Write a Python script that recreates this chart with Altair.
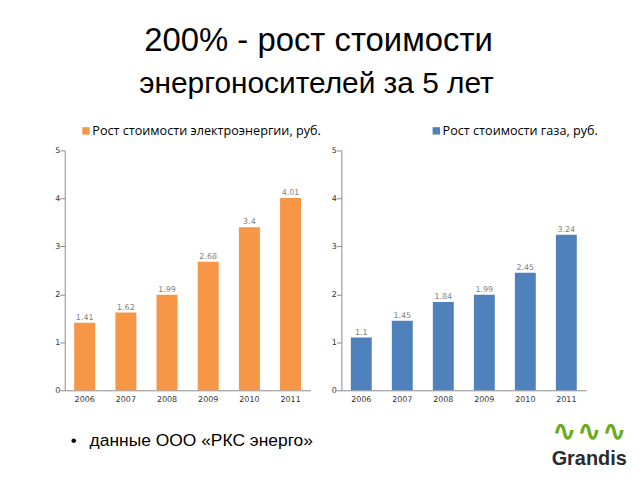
import altair as alt
import pandas as pd

years = ["2006", "2007", "2008", "2009", "2010", "2011"]
electricity = [1.41, 1.62, 1.99, 2.68, 3.4, 4.01]
electricity_labels = ["1.41", "1.62", "1.99", "2.68", "3.4", "4.01"]
gas = [1.1, 1.45, 1.84, 1.99, 2.45, 3.24]
gas_labels = ["1.1", "1.45", "1.84", "1.99", "2.45", "3.24"]
series_names = ["Рост стоимости электроэнергии, руб.", "Рост стоимости газа, руб."]
series_colors = ["#F79646", "#4F81BD"]
title_lines = ["200% - рост стоимости", "энергоносителей за 5 лет"]
footnote = "данные ООО «РКС энерго»"
logo = "Grandis"

W, H = 247, 241
AXIS_COLOR = "#8c8c8c"


def panel(values, labels, name, color, legend_x):
    df = pd.DataFrame({"year": years, "value": values, "label": labels, "series": name})
    base = alt.Chart(df)
    x = alt.X("year:N", title=None,
              scale=alt.Scale(paddingInner=0.49, paddingOuter=0.23),
              axis=alt.Axis(labelAngle=0, ticks=False, domainColor=AXIS_COLOR,
                            labelFontSize=8, labelColor="#333333", labelPadding=5,
                            labelFont="DejaVu Sans"))
    y = alt.Y("value:Q", title=None,
              scale=alt.Scale(domain=[0, 5], nice=False),
              axis=alt.Axis(values=[0, 1, 2, 3, 4, 5], grid=False, tickSize=5,
                            tickColor=AXIS_COLOR, domainColor=AXIS_COLOR,
                            labelFontSize=8, labelColor="#333333", labelPadding=0,
                            labelFont="DejaVu Sans"))
    bars = base.mark_bar().encode(
        x=x, y=y,
        color=alt.Color("series:N",
                        scale=alt.Scale(domain=[name], range=[color]),
                        legend=alt.Legend(orient="none", legendX=legend_x, legendY=-26,
                                          title=None, symbolType="square", symbolSize=55,
                                          symbolStrokeWidth=0, labelFontSize=12.7,
                                          labelFont="Open Sans", labelColor="#000000",
                                          labelLimit=0, labelOffset=0)),
    )
    text = base.mark_text(baseline="bottom", dy=-1, fontSize=8, color="#7f7f7f",
                          font="DejaVu Sans").encode(x="year:N", y="value:Q", text="label:N")
    return bars, text


lb, lt = panel(electricity, electricity_labels, series_names[0], series_colors[0], 15)
rb, rt = panel(gas, gas_labels, series_names[1], series_colors[1], 89)

t_df = pd.DataFrame({"t1": [title_lines[0]], "t2": [title_lines[1]], "f": [footnote], "g": [logo]})
tbase = alt.Chart(t_df)
title1 = tbase.mark_text(fontSize=33, font="Liberation Sans", color="#000000",
                         baseline="alphabetic", align="center").encode(
    x=alt.value(255), y=alt.value(-100), text="t1:N")
title2 = tbase.mark_text(fontSize=30, font="Liberation Sans", color="#000000",
                         baseline="alphabetic", align="center").encode(
    x=alt.value(253), y=alt.value(-58), text="t2:N")
bullet = tbase.mark_text(text="•", fontSize=17, font="Liberation Sans",
                         align="left", baseline="middle").encode(
    x=alt.value(6), y=alt.value(292))
foot = tbase.mark_text(fontSize=17.5, font="Liberation Sans", align="left",
                       baseline="middle", color="#000000").encode(
    x=alt.value(25), y=alt.value(292), text="f:N")

wave = tbase.mark_text(text="∿∿∿", fontSize=30, font="DejaVu Sans", fontWeight="bold",
                       color="#6aaa1e", align="center", baseline="middle").encode(
    x=alt.value(249), y=alt.value(283))
logo_text = tbase.mark_text(fontSize=20, font="Liberation Sans", fontWeight="bold",
                            color="#2b2b2b", align="center", baseline="middle").encode(
    x=alt.value(249), y=alt.value(310), text="g:N")

left = alt.layer(lb, lt, title1, title2, bullet, foot).properties(width=W, height=H)
right = alt.layer(rb, rt, wave, logo_text).properties(width=246, height=H)

chart = alt.hconcat(left, right, spacing=31, bounds="flush").resolve_scale(
    color="independent").configure_view(stroke=None).properties(
    padding={"left": 46, "top": 16, "right": 5, "bottom": 5})

chart.save("out.html", embed_options={"renderer": "svg", "actions": False})
